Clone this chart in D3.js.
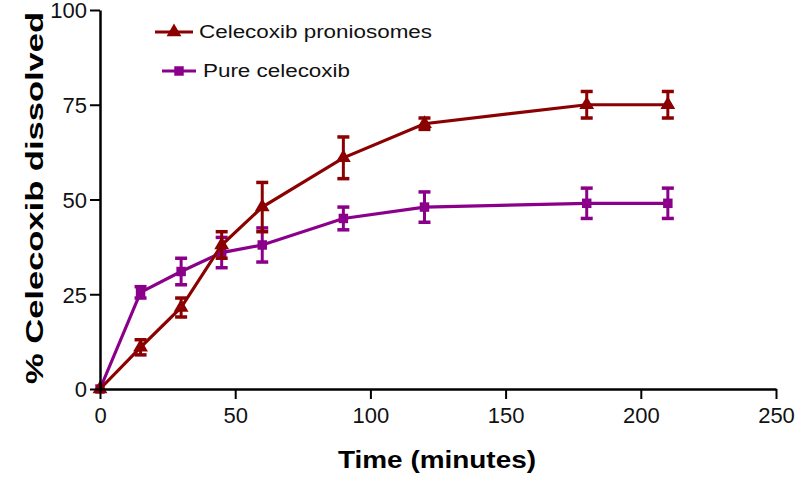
<!DOCTYPE html>
<html><head><meta charset="utf-8">
<script src="https://cdn.jsdelivr.net/npm/d3@7"></script>
<style>body{margin:0;background:#fff}svg{display:block}</style>
</head><body>
<svg id="c" width="799" height="477"></svg>
<script>
const times = [0, 15, 30, 45, 60, 90, 120, 180, 210];
const proniosomes = [0, 11, 21.5, 38, 48, 61, 70, 75, 75];
const proniosomesErr = [0, 2, 2.5, 3.5, 6.5, 5.5, 1.5, 3.5, 3.5];
const pure = [0, 25.5, 31, 36, 38, 45, 48, 49, 49];
const pureErr = [0, 1.5, 3.5, 4, 4.5, 3, 4, 4, 4];
const xTicks = [0, 50, 100, 150, 200, 250];
const yTicks = [0, 25, 50, 75, 100];
const seriesNames = ["Celecoxib proniosomes", "Pure celecoxib"];

const svg = d3.select("#c");
const x = d3.scaleLinear().domain([0, 250]).range([100, 776]);
const y = d3.scaleLinear().domain([0, 100]).range([389, 10]);
const font = "'Liberation Sans', Arial, sans-serif";

const series = [
  {name: seriesNames[0], vals: proniosomes, err: proniosomesErr, color: "#8b0000", shape: d3.symbolTriangle, size: 95},
  {name: seriesNames[1], vals: pure, err: pureErr, color: "#8b008b", shape: d3.symbolSquare, size: 90}
];

[series[1], series[0]].forEach(s => {
  const g = svg.append("g");
  const pts = times.map((t, i) => ({t, v: s.vals[i], e: s.err[i]}));
  g.append("path").datum(pts)
    .attr("fill", "none").attr("stroke", s.color).attr("stroke-width", 3.2)
    .attr("d", d3.line().x(d => x(d.t)).y(d => y(d.v)));
  const eb = g.selectAll(".eb").data(pts.filter(d => d.e > 0)).enter().append("g");
  eb.append("line").attr("x1", d => x(d.t)).attr("x2", d => x(d.t))
    .attr("y1", d => y(d.v + d.e)).attr("y2", d => y(d.v - d.e))
    .attr("stroke", s.color).attr("stroke-width", 3);
  [1, -1].forEach(sg => {
    eb.append("line").attr("x1", d => x(d.t) - 6).attr("x2", d => x(d.t) + 6)
      .attr("y1", d => y(d.v + sg * d.e)).attr("y2", d => y(d.v + sg * d.e))
      .attr("stroke", s.color).attr("stroke-width", 3.5);
  });
  g.selectAll(".m").data(pts).enter().append("path")
    .attr("transform", d => `translate(${x(d.t)},${y(d.v)})`)
    .attr("d", d3.symbol().type(s.shape).size(s.size))
    .attr("fill", s.color);
});

const xAxis = svg.append("g").attr("transform", "translate(0,389)")
  .call(d3.axisBottom(x).tickValues(xTicks).tickSize(10).tickSizeOuter(0));
const yAxis = svg.append("g").attr("transform", "translate(100,0)")
  .call(d3.axisLeft(y).tickValues(yTicks).tickSize(10).tickSizeOuter(0));
[xAxis, yAxis].forEach(a => {
  a.attr("font-size", null).attr("font-family", null);
  a.select(".domain").attr("stroke", "#000").attr("stroke-width", 2.5);
  a.selectAll(".tick line").attr("stroke", "#000").attr("stroke-width", 2);
  a.selectAll(".tick text").style("font-family", font).style("font-size", "22px").attr("fill", "#111");
});
xAxis.selectAll(".tick text").attr("dy", "0.71em").attr("y", 18);
yAxis.selectAll(".tick text").attr("x", -13).attr("dy", "0.36em");

svg.append("text").attr("x", 437).attr("y", 468).attr("text-anchor", "middle")
  .attr("font-family", font).attr("font-weight", "bold").attr("font-size", 24)
  .attr("textLength", 198).attr("lengthAdjust", "spacingAndGlyphs")
  .text("Time (minutes)");
svg.append("text").attr("transform", "translate(43,198) rotate(-90)").attr("text-anchor", "middle")
  .attr("font-family", font).attr("font-weight", "bold").attr("font-size", 24)
  .attr("textLength", 372).attr("lengthAdjust", "spacingAndGlyphs")
  .text("% Celecoxib dissolved");

const leg = [
  {s: series[0], x1: 155, x2: 193, y: 32, tx: 199, len: 233},
  {s: series[1], x1: 162, x2: 196, y: 71, tx: 203, len: 147}
];
leg.forEach(l => {
  svg.append("line").attr("x1", l.x1).attr("x2", l.x2).attr("y1", l.y).attr("y2", l.y)
    .attr("stroke", l.s.color).attr("stroke-width", 3.2);
  svg.append("path").attr("transform", `translate(${(l.x1 + l.x2) / 2},${l.y})`)
    .attr("d", d3.symbol().type(l.s.shape).size(l.s.size)).attr("fill", l.s.color);
  svg.append("text").attr("x", l.tx).attr("y", l.y + 6)
    .attr("font-family", font).attr("font-size", 18).attr("fill", "#111")
    .attr("textLength", l.len).attr("lengthAdjust", "spacingAndGlyphs")
    .text(l.s.name);
});
</script>
</body></html>
